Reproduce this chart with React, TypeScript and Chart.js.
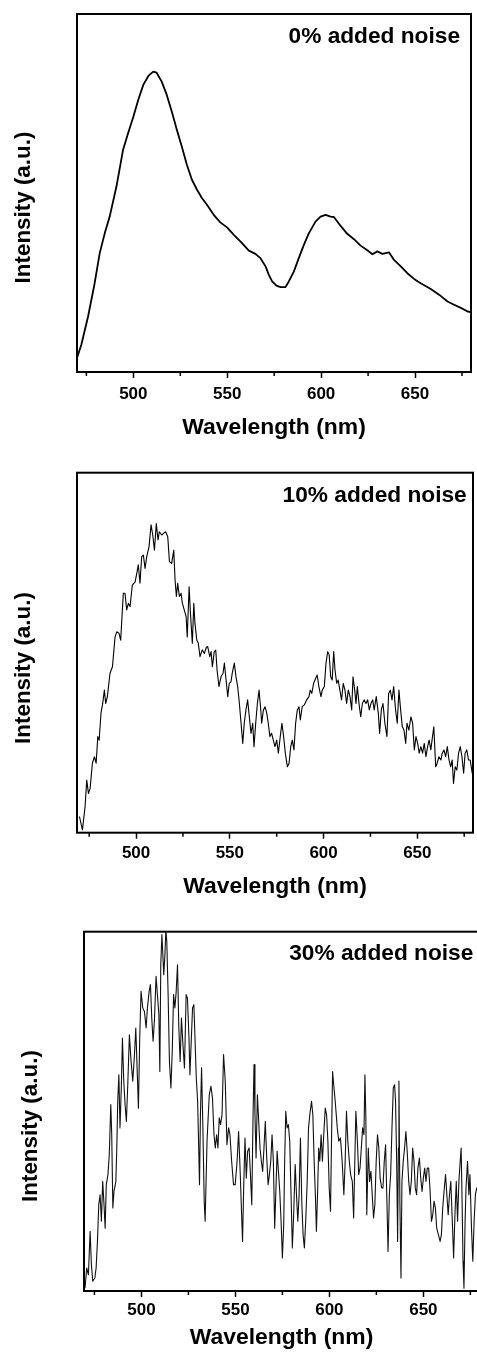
import React, { useEffect, useRef } from 'react';
import { Chart, registerables } from 'chart.js';

Chart.register(...registerables);

const FONT = '"Liberation Sans", Arial, Helvetica, sans-serif';

const majorTicks = [500, 550, 600, 650];
const minorTicks = [475, 525, 575, 625, 675];
const xTitle = 'Wavelength (nm)';
const yTitle = 'Intensity (a.u.)';
const panelLabels = ['0% added noise', '10% added noise', '30% added noise'];

// 0% added noise
const wavelength0 = [470, 472.3, 475.9, 479.4, 482.1, 484.8, 487.4, 491, 494.5, 497.2, 500, 502.6, 505.3, 508, 510.6, 512.4, 515.1, 517.8, 520.5, 523.2, 525.8, 528.5, 531.2, 533.9, 536.5, 539.2, 542.8, 546.3, 549.9, 553.5, 557, 561.5, 565, 567.7, 570.4, 572.1, 573.9, 576.2, 578.4, 581, 582.8, 585.5, 588.1, 590.8, 593.5, 597, 599.7, 602.4, 605, 606.8, 610.4, 613.9, 617.5, 621, 624.6, 627.3, 629.9, 632.6, 636.2, 638.8, 642.4, 645.9, 649.5, 653, 658.4, 662.8, 667.3, 670.8, 674.4, 678, 680];
const intensity0 = [3.9, 7.6, 15.5, 24.8, 33.2, 38.8, 43.4, 51.8, 62.0, 66.7, 71.3, 76.0, 80.2, 82.7, 83.9, 83.6, 81.1, 77.4, 72.7, 67.6, 63.0, 57.9, 53.7, 50.9, 48.6, 46.7, 43.9, 41.8, 40.4, 38.3, 36.5, 33.9, 33.0, 31.8, 29.5, 27.2, 25.3, 24.1, 23.7, 23.7, 25.3, 28.1, 31.8, 35.5, 38.8, 42.0, 43.4, 43.9, 43.4, 43.3, 40.8, 38.6, 37.1, 35.3, 34.0, 32.9, 33.7, 33.0, 33.4, 31.3, 29.5, 27.6, 26.0, 24.8, 23.2, 21.6, 19.7, 18.8, 17.9, 16.9, 16.7];

// 10% added noise
const wavelength10 = [469.8, 471.4, 472.8, 473.7, 474.6, 475.5, 476.7, 477.8, 478.7, 479.6, 480.3, 481.3, 482.2, 483.1, 483.8, 484.7, 486.1, 487.4, 488.8, 489.7, 490.9, 491.8, 492.7, 493.2, 494.1, 495.0, 495.9, 496.8, 498.0, 499.5, 500.4, 501.2, 502.1, 503.0, 503.9, 504.8, 505.7, 506.9, 508.0, 508.9, 509.8, 510.8, 511.7, 512.4, 513.7, 514.8, 515.8, 516.9, 517.8, 519.0, 520.1, 520.8, 521.5, 522.2, 523.1, 524.0, 524.7, 525.7, 526.7, 527.3, 528.3, 528.9, 530.0, 530.8, 531.4, 532.4, 533.2, 534.1, 535.3, 536.4, 537.5, 538.2, 539.3, 540.0, 540.7, 541.7, 542.5, 543.2, 544.2, 545.3, 546.4, 547.1, 548.0, 548.9, 549.7, 550.6, 551.3, 552.4, 553.3, 554.2, 555.1, 556.0, 556.9, 557.7, 558.6, 559.5, 560.4, 561.3, 562.2, 562.9, 563.8, 564.7, 565.6, 566.5, 567.0, 567.9, 568.8, 569.7, 570.5, 571.4, 572.3, 573.2, 574.1, 575.0, 575.9, 576.9, 577.8, 578.7, 579.6, 580.7, 581.6, 582.5, 583.3, 584.2, 585.1, 586.0, 586.9, 587.6, 588.6, 589.7, 591.0, 592.2, 592.9, 593.7, 594.7, 595.8, 596.6, 597.5, 598.6, 599.3, 600.4, 601.3, 602.2, 603.0, 603.8, 604.6, 605.4, 606.1, 607.0, 607.8, 608.7, 609.6, 610.5, 611.4, 612.3, 613.2, 614.1, 615.0, 615.7, 616.6, 617.3, 618.0, 618.9, 619.8, 620.7, 621.7, 622.6, 623.5, 624.4, 625.3, 626.2, 627.0, 628.1, 629.2, 629.9, 630.8, 631.7, 632.7, 633.8, 634.7, 635.6, 636.5, 637.4, 638.4, 639.3, 640.2, 641.1, 642.0, 642.9, 643.8, 644.5, 645.5, 646.6, 647.5, 648.4, 649.3, 650.2, 651.0, 651.9, 652.8, 653.7, 654.6, 655.5, 656.3, 657.2, 658.1, 658.8, 659.8, 660.6, 661.5, 662.6, 663.3, 664.2, 665.1, 666.0, 666.9, 667.8, 668.6, 669.3, 670.2, 671.1, 672.0, 672.9, 673.8, 674.7, 675.5, 676.4, 677.3, 678.2, 679.3];
const intensity10 = [4.5, 0.8, 7.2, 14.6, 10.9, 12.3, 19.3, 21.1, 19.3, 26.7, 25.7, 33.2, 35.9, 39.6, 35.9, 37.8, 44.3, 46.1, 54.4, 55.8, 55.4, 53.5, 61.9, 66.5, 66.5, 61.9, 63.7, 62.8, 68.8, 69.7, 72.1, 74.4, 69.3, 76.7, 77.1, 73.4, 76.7, 79.4, 85.5, 82.7, 78.5, 85.9, 81.3, 83.6, 82.7, 83.2, 83.6, 82.2, 75.3, 74.8, 78.5, 70.2, 65.6, 69.3, 65.6, 66.5, 63.7, 61.9, 60.0, 54.4, 68.3, 61.9, 52.6, 63.7, 58.2, 53.5, 52.6, 48.9, 50.8, 49.8, 51.5, 51.7, 48.9, 50.3, 46.1, 50.3, 50.7, 45.2, 40.6, 43.3, 44.3, 47.1, 42.4, 37.8, 41.5, 41.9, 44.3, 47.1, 43.3, 40.6, 35.9, 30.4, 24.8, 30.4, 34.1, 36.9, 32.2, 27.6, 30.4, 23.9, 30.4, 35.9, 39.6, 34.1, 30.4, 34.1, 35.0, 33.2, 30.4, 26.7, 27.6, 25.7, 23.9, 25.7, 22.1, 26.7, 30.4, 26.7, 22.1, 18.3, 19.3, 23.9, 25.7, 23.0, 30.4, 34.1, 35.0, 31.3, 35.0, 35.5, 36.9, 37.8, 39.6, 38.7, 41.5, 42.9, 43.8, 40.6, 37.8, 39.6, 40.6, 47.1, 50.3, 49.4, 43.3, 42.4, 50.3, 45.2, 41.5, 42.4, 39.6, 36.9, 41.5, 39.6, 35.9, 39.6, 37.8, 34.1, 43.3, 39.6, 35.9, 40.6, 35.9, 32.2, 35.9, 36.9, 35.9, 36.9, 34.1, 35.9, 36.9, 34.1, 37.8, 33.2, 27.6, 34.1, 35.9, 30.4, 26.7, 38.7, 39.6, 36.9, 40.6, 34.1, 30.4, 39.6, 34.1, 29.4, 28.5, 24.8, 30.4, 28.5, 32.2, 30.4, 23.0, 26.7, 24.8, 22.1, 23.9, 22.1, 24.8, 21.1, 23.9, 25.7, 23.0, 26.7, 29.4, 18.3, 19.3, 21.1, 20.2, 22.1, 23.0, 21.1, 23.9, 20.2, 18.3, 20.2, 13.7, 18.3, 17.4, 22.1, 23.9, 21.1, 16.5, 22.1, 23.0, 20.2, 20.2, 16.5];

// 30% added noise
const wavelength30 = [470.0, 470.9, 471.8, 472.7, 473.4, 474.1, 475.2, 475.9, 476.6, 477.3, 478.0, 478.7, 479.4, 480.1, 480.7, 481.3, 482.2, 482.9, 483.7, 484.2, 484.8, 485.4, 486.4, 486.9, 487.4, 488.0, 488.6, 489.3, 489.9, 490.6, 491.3, 492.0, 492.8, 493.6, 494.5, 495.4, 496.3, 497.0, 497.7, 498.4, 499.1, 499.8, 500.7, 501.6, 502.5, 503.2, 504.1, 504.8, 505.5, 506.2, 506.9, 507.8, 508.5, 509.3, 509.8, 510.3, 510.9, 511.4, 511.9, 512.5, 513.0, 513.5, 514.2, 514.9, 515.7, 516.4, 517.1, 517.8, 518.5, 519.2, 519.9, 520.6, 521.3, 522.1, 522.9, 523.8, 524.5, 525.3, 525.8, 526.5, 527.2, 527.9, 528.5, 529.2, 529.9, 530.4, 530.9, 531.4, 532.0, 532.7, 533.4, 533.9, 534.9, 536.1, 537.0, 537.8, 538.6, 539.3, 540.0, 540.7, 541.4, 542.1, 542.9, 543.7, 544.6, 545.5, 546.4, 547.1, 548.0, 549.0, 549.9, 550.9, 551.7, 552.6, 553.3, 553.8, 554.4, 555.1, 555.8, 556.5, 557.3, 558.0, 558.7, 559.4, 559.9, 560.4, 561.0, 561.7, 562.4, 563.1, 563.8, 564.5, 565.2, 565.9, 566.6, 567.4, 568.1, 568.8, 569.5, 570.2, 570.9, 571.7, 572.2, 572.9, 573.6, 574.3, 575.0, 575.7, 576.2, 576.8, 577.5, 578.2, 578.9, 579.6, 580.3, 581.0, 581.8, 582.5, 583.2, 583.9, 584.6, 585.3, 586.0, 586.7, 587.4, 588.2, 588.9, 589.6, 590.5, 591.2, 591.9, 592.6, 593.1, 593.8, 594.3, 594.9, 595.6, 596.3, 597.0, 597.8, 598.5, 599.2, 599.9, 600.6, 601.1, 601.7, 602.3, 603.1, 604.2, 605.0, 605.9, 606.8, 607.7, 608.4, 609.1, 609.8, 610.6, 611.3, 612.2, 612.9, 613.6, 614.1, 614.9, 615.6, 616.3, 617.0, 617.7, 618.4, 618.9, 619.4, 619.9, 620.7, 621.4, 622.1, 622.8, 623.5, 624.2, 624.9, 625.6, 626.3, 627.0, 627.8, 628.5, 629.2, 629.9, 630.6, 631.2, 631.9, 632.6, 633.3, 634.0, 634.7, 635.2, 635.8, 636.3, 636.7, 637.0, 637.5, 638.1, 638.6, 639.3, 640.0, 640.7, 641.5, 642.2, 642.9, 643.6, 644.3, 645.0, 645.7, 646.4, 647.1, 647.9, 648.6, 649.3, 650.0, 650.7, 651.4, 652.1, 652.8, 653.5, 654.3, 655.0, 655.7, 656.4, 657.1, 658.0, 658.9, 659.6, 660.3, 661.0, 661.8, 662.5, 663.2, 663.9, 664.6, 665.4, 666.1, 666.8, 667.5, 668.2, 668.9, 669.6, 670.1, 670.6, 671.1, 671.6, 672.2, 672.7, 673.5, 674.2, 674.8, 675.6, 676.3, 677.0, 677.7, 678.4, 679.0];
const intensity30 = [0.8, 6.4, 4.5, 16.6, 7.3, 2.7, 3.6, 6.4, 13.8, 24.0, 26.8, 19.4, 30.5, 24.0, 17.5, 29.6, 32.4, 37.9, 51.9, 43.5, 23.1, 27.7, 30.5, 39.8, 52.8, 60.2, 45.4, 56.5, 70.4, 58.4, 51.9, 47.2, 58.4, 71.3, 63.9, 58.4, 65.8, 73.2, 62.1, 50.9, 70.4, 83.4, 78.8, 77.8, 73.2, 78.8, 83.4, 85.3, 76.0, 69.5, 75.1, 87.6, 82.5, 76.9, 61.1, 90.8, 99.2, 93.6, 88.0, 93.6, 100.5, 97.3, 82.5, 63.9, 56.5, 66.7, 82.5, 78.8, 83.4, 90.8, 73.2, 63.9, 76.0, 68.5, 62.1, 82.5, 81.5, 70.4, 60.2, 69.5, 78.8, 79.7, 70.4, 59.3, 52.8, 41.7, 29.6, 49.1, 62.1, 45.4, 25.0, 19.4, 41.7, 54.6, 57.0, 53.7, 43.5, 39.8, 43.5, 39.8, 48.2, 46.3, 49.1, 65.8, 58.4, 40.7, 45.4, 43.5, 36.1, 29.6, 29.6, 36.1, 44.4, 32.4, 21.2, 13.8, 28.7, 42.6, 31.4, 38.9, 39.8, 32.4, 24.0, 49.1, 63.0, 49.1, 37.0, 54.6, 47.2, 39.8, 36.1, 33.3, 39.8, 47.2, 37.9, 29.6, 32.4, 36.1, 43.5, 36.1, 17.5, 30.5, 38.9, 33.3, 27.7, 19.4, 9.2, 18.5, 36.1, 50.0, 45.4, 46.3, 41.7, 26.8, 12.0, 21.2, 35.2, 26.8, 19.4, 26.8, 42.6, 25.0, 15.7, 12.0, 19.4, 30.5, 45.4, 49.1, 52.8, 49.1, 36.1, 25.9, 16.6, 28.7, 39.8, 36.1, 43.5, 36.1, 43.5, 50.9, 49.1, 41.7, 28.7, 22.2, 40.7, 61.1, 57.4, 52.8, 45.4, 41.7, 42.6, 36.1, 26.8, 36.1, 50.0, 41.7, 36.1, 32.4, 30.5, 20.3, 37.9, 50.0, 41.7, 32.4, 34.2, 39.8, 45.4, 43.5, 60.2, 48.2, 21.2, 39.8, 30.5, 33.3, 26.8, 20.3, 24.0, 36.1, 43.5, 39.8, 31.4, 28.7, 28.7, 36.1, 40.7, 25.0, 11.0, 26.8, 32.4, 45.4, 56.5, 57.4, 52.8, 36.1, 13.8, 39.8, 58.4, 25.0, 3.6, 30.5, 36.1, 39.8, 44.4, 37.9, 30.5, 26.8, 30.5, 39.8, 36.1, 28.7, 26.8, 34.2, 37.0, 31.4, 27.7, 31.4, 34.2, 30.5, 34.2, 34.2, 28.7, 19.4, 21.2, 25.0, 23.1, 17.5, 15.7, 13.8, 15.7, 23.1, 27.7, 32.4, 26.8, 21.2, 26.8, 30.5, 19.4, 9.2, 21.2, 30.5, 19.4, 30.5, 36.1, 39.8, 25.0, 8.3, 0.8, 19.4, 28.7, 36.1, 26.8, 32.4, 17.5, 8.3, 19.4, 26.8, 28.7, 28.7];

type PanelCfg = {
  top: number; width: number; height: number;
  padL: number; padT: number; padR: number; padB: number; axisH: number;
  xMin: number; xMax: number; tickPad: number;
  wl: number[]; it: number[]; label: string; lineWidth: number; color: string;
  yTitleX: number; yTitleDy: number; labelInset: number; labelDy: number;
};

const panels: PanelCfg[] = [
  { top: 0, width: 477, height: 441, padL: 77, padT: 14, padR: 6, padB: 0, axisH: 69, xMin: 470, xMax: 679.8, tickPad: 6,
    wl: wavelength0, it: intensity0, label: panelLabels[0], lineWidth: 1.8, color: '#000', yTitleX: 24, yTitleDy: 14.5, labelInset: 11, labelDy: 23 },
  { top: 441, width: 477, height: 459, padL: 77, padT: 31.7, padR: 4, padB: 0, axisH: 67.3, xMin: 468.5, xMax: 679.7, tickPad: 4.5,
    wl: wavelength10, it: intensity10, label: panelLabels[1], lineWidth: 1.1, color: '#000', yTitleX: 24, yTitleDy: 15.3, labelInset: 6.3, labelDy: 23 },
  { top: 900, width: 490, height: 457, padL: 84, padT: 31.7, padR: 11, padB: 5.3, axisH: 60.7, xMin: 469.45, xMax: 679.6, tickPad: 3,
    wl: wavelength30, it: intensity30, label: panelLabels[2], lineWidth: 1.1, color: '#111', yTitleX: 31, yTitleDy: 14.7, labelInset: 5.7, labelDy: 22.3 },
];

const decorPlugin = {
  id: 'decor',
  afterDatasetsDraw(chart: any, _args: any, opts: any) {
    const { ctx, chartArea: a, scales } = chart;
    ctx.save();
    ctx.strokeStyle = '#000';
    ctx.lineWidth = 2;
    ctx.strokeRect(a.left, a.top, a.right - a.left, a.bottom - a.top);
    ctx.lineWidth = 1.5;
    ctx.beginPath();
    for (const v of minorTicks) {
      const x = scales.x.getPixelForValue(v);
      ctx.moveTo(x, a.bottom);
      ctx.lineTo(x, a.bottom + 4);
    }
    ctx.stroke();
    ctx.fillStyle = '#000';
    ctx.font = `bold 22.7px ${FONT}`;
    ctx.textAlign = 'right';
    ctx.textBaseline = 'middle';
    ctx.fillText(opts.label, a.right - opts.labelInset, a.top + opts.labelDy);
    ctx.font = `bold 22.4px ${FONT}`;
    ctx.translate(opts.yTitleX, (a.top + a.bottom) / 2 + opts.yTitleDy);
    ctx.rotate(-Math.PI / 2);
    ctx.textAlign = 'center';
    ctx.fillText(yTitle, 0, 0);
    ctx.restore();
  },
};

function Panel({ cfg }: { cfg: PanelCfg }) {
  const ref = useRef<HTMLCanvasElement | null>(null);
  useEffect(() => {
    if (!ref.current) return;
    const data = cfg.wl.map((x, i) => ({ x, y: cfg.it[i] }));
    const chart = new Chart(ref.current, {
      type: 'line',
      data: {
        datasets: [{
          data,
          borderColor: cfg.color,
          borderWidth: cfg.lineWidth,
          pointRadius: 0,
          tension: 0,
          fill: false,
          borderJoinStyle: 'round',
        }],
      },
      options: {
        animation: false,
        responsive: false,
        maintainAspectRatio: false,
        devicePixelRatio: 1,
        layout: { padding: { left: cfg.padL, top: cfg.padT, right: cfg.padR, bottom: cfg.padB } },
        plugins: {
          legend: { display: false },
          tooltip: { enabled: false },
          decor: {
            label: cfg.label, labelInset: cfg.labelInset, labelDy: cfg.labelDy,
            yTitleX: cfg.yTitleX, yTitleDy: cfg.yTitleDy,
          },
        } as any,
        scales: {
          x: {
            type: 'linear',
            min: cfg.xMin,
            max: cfg.xMax,
            afterBuildTicks: (s: any) => { s.ticks = majorTicks.map((v) => ({ value: v })); },
            afterFit: (s: any) => { s.height = cfg.axisH; },
            ticks: {
              color: '#000',
              padding: cfg.tickPad,
              maxRotation: 0,
              autoSkip: false,
              font: { family: FONT, size: 17, weight: 'bold' },
              callback: (v: any) => String(v),
            },
            grid: { drawOnChartArea: false, drawTicks: true, tickLength: 6, tickWidth: 1.5, tickColor: '#000' },
            border: { display: false },
            title: {
              display: true,
              text: xTitle,
              color: '#000',
              padding: 0,
              font: { family: FONT, size: 22.9, weight: 'bold' },
            },
          },
          y: { type: 'linear', display: false, min: 0, max: 100 },
        },
      } as any,
      plugins: [decorPlugin],
    });
    return () => chart.destroy();
  }, [cfg]);
  return (
    <canvas
      ref={ref}
      width={cfg.width}
      height={cfg.height}
      style={{ position: 'absolute', left: 0, top: cfg.top, width: cfg.width, height: cfg.height, display: 'block' }}
    />
  );
}

export default function App() {
  return (
    <div style={{ position: 'absolute', left: 0, top: 0, width: 477, height: 1357, overflow: 'hidden', background: '#fff' }}>
      {panels.map((p, i) => <Panel key={i} cfg={p} />)}
    </div>
  );
}
